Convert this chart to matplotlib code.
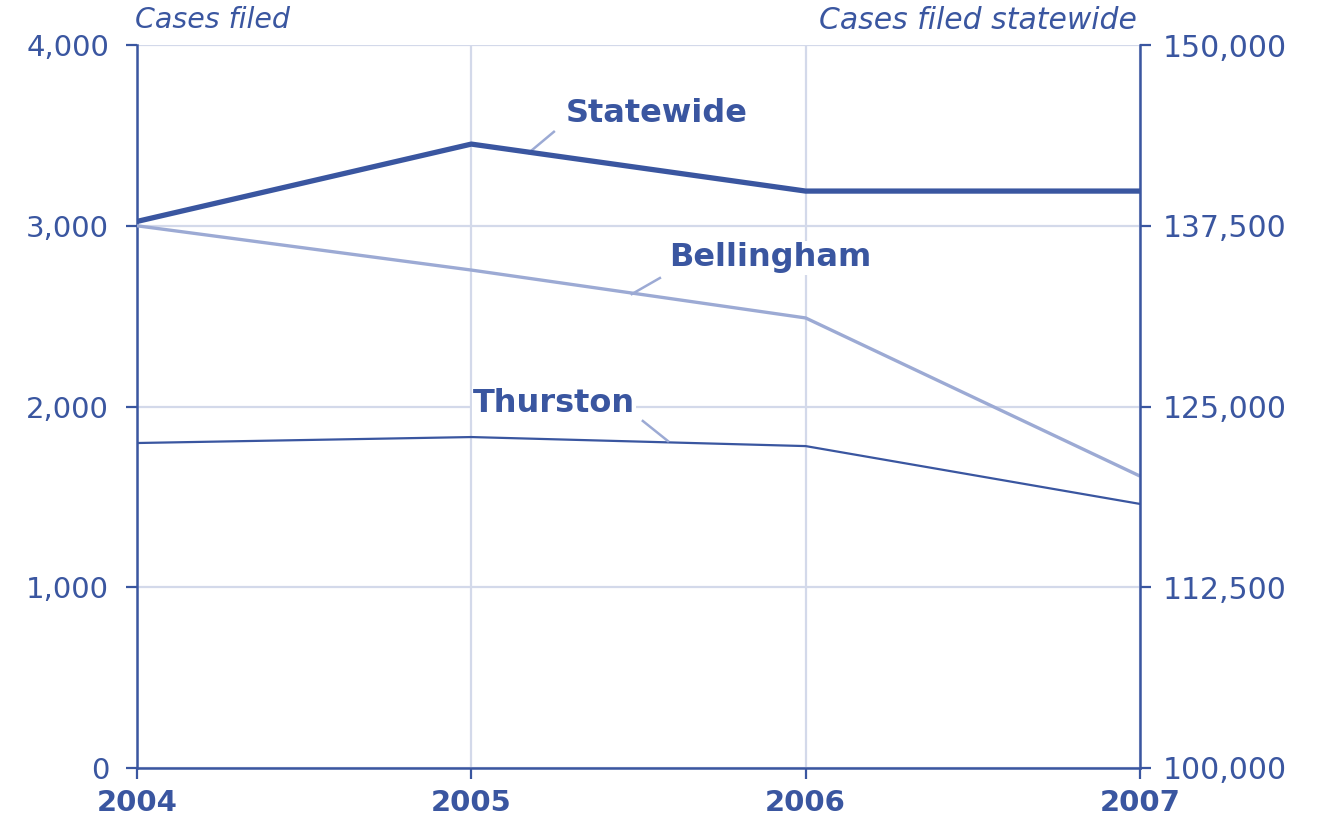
import matplotlib.pyplot as plt

# values
years = [2004, 2005, 2006, 2007]
bellingham = [3000, 2755, 2490, 1615]
thurston = [1798, 1831, 1781, 1461]
statewide = [137800, 143150, 139900, 139900]

left_ticks = [0, 1000, 2000, 3000, 4000]
right_ticks = [100000, 112500, 125000, 137500, 150000]

dark = "#3A56A0"
light = "#9CAAD4"
grid = "#D3D9EA"

plt.rcParams['font.family'] = ['DejaVu Sans']

fig = plt.figure(figsize=(13.17, 8.19), dpi=100)
ax = fig.add_axes([0.104, 0.0623, 0.7616, 0.8827])
ax2 = ax.twinx()

# grid
ax.set_axisbelow(True)
ax.grid(True, color=grid, linewidth=1.6)

ax.plot(years, bellingham, color=light, linewidth=2.4, solid_capstyle='butt', zorder=3)
ax.plot(years, thurston, color=dark, linewidth=1.6, zorder=3)
ax2.plot(years, statewide, color=dark, linewidth=3.8, zorder=3)

ax.set_xlim(2004, 2007)
ax.set_ylim(0, 4000)
ax2.set_ylim(100000, 150000)
ax.set_xticks(years)
ax.set_yticks(left_ticks)
ax2.set_yticks(right_ticks)
ax.set_xticklabels([str(y) for y in years], fontsize=21, fontweight='bold', color=dark)
ax.set_yticklabels([f"{v:,}" for v in left_ticks], fontsize=21, color=dark)
ax2.set_yticklabels([f"{v:,}" for v in right_ticks], fontsize=21.5, color=dark)

for a in (ax, ax2):
    a.spines['top'].set_visible(False)
    for side in ('left', 'right', 'bottom'):
        a.spines[side].set_color(dark)
        a.spines[side].set_linewidth(1.8)
ax.spines['right'].set_visible(False)
ax2.spines['left'].set_visible(False)
ax2.spines['bottom'].set_visible(False)

ax.tick_params(axis='y', direction='out', length=8, width=1.6, color=dark, pad=12)
ax.tick_params(axis='x', direction='out', length=8, width=1.6, color=dark, pad=7)
ax2.tick_params(axis='y', direction='out', length=8, width=1.6, color=dark, pad=8)

# axis titles
fig.text(0.1025, 0.975, "Cases filed", fontsize=20.5, style='italic', color=dark,
         ha='left', va='center')
fig.text(0.8635, 0.975, "Cases filed statewide", fontsize=21.5, style='italic', color=dark,
         ha='right', va='center')

# series labels with leader lines
bbox = dict(facecolor='white', edgecolor='none', pad=1)
ax.text(2005.555, 3624, "Statewide", fontsize=23, fontweight='bold', color=dark,
        ha='center', va='center', bbox=bbox, zorder=5)
ax.plot([2005.247, 2005.172], [3520, 3404], color=light, linewidth=1.8, zorder=4)
ax.text(2005.893, 2822, "Bellingham", fontsize=23, fontweight='bold', color=dark,
        ha='center', va='center', bbox=bbox, zorder=5)
ax.plot([2005.564, 2005.48], [2711, 2622], color=light, linewidth=1.8, zorder=4)
ax.text(2005.247, 2019, "Thurston", fontsize=23, fontweight='bold', color=dark,
        ha='center', va='center', bbox=bbox, zorder=5)
ax.plot([2005.513, 2005.588], [1920, 1809], color=light, linewidth=1.8, zorder=4)

fig.savefig("out.png", dpi=100)
